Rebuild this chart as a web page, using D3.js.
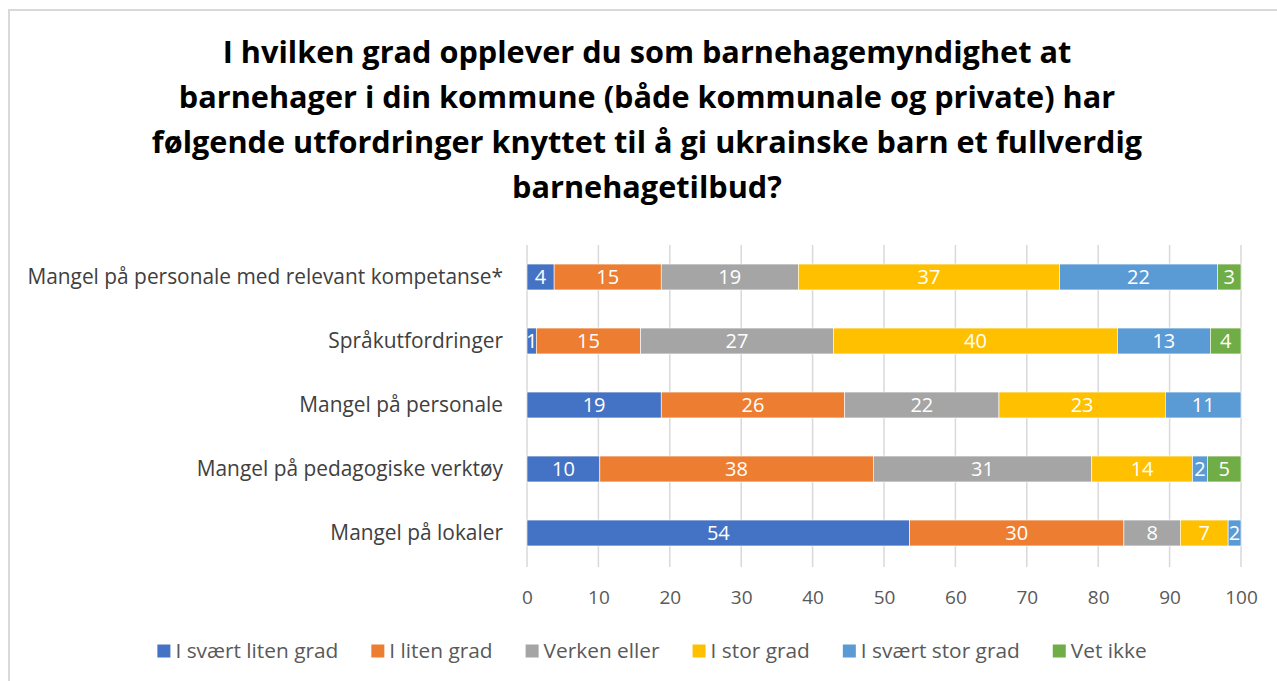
<!DOCTYPE html>
<html>
<head>
<meta charset="utf-8">
<script src="https://cdn.jsdelivr.net/npm/d3@7"></script>
<style>
  html, body { margin: 0; padding: 0; background: #fff; }
  svg { display: block; font-family: "Open Sans", "Noto Sans", sans-serif; }
</style>
</head>
<body>
<svg id="chart" width="1277" height="681"></svg>
<script>
// ---------- DATA ----------
const titleLines = [
  "I hvilken grad opplever du som barnehagemyndighet at",
  "barnehager i din kommune (både kommunale og private) har",
  "følgende utfordringer knyttet til å gi ukrainske barn et fullverdig",
  "barnehagetilbud?"
];
const categories = [
  "Mangel på personale med relevant kompetanse*",
  "Språkutfordringer",
  "Mangel på personale",
  "Mangel på pedagogiske verktøy",
  "Mangel på lokaler"
];
const seriesNames = ["I svært liten grad", "I liten grad", "Verken eller", "I stor grad", "I svært stor grad", "Vet ikke"];
const iSvaertLitenGrad = [3.8, 1.3, 18.8, 10.2, 53.6];
const iLitenGrad       = [15.0, 14.6, 25.7, 38.3, 30.0];
const verkenEller      = [19.2, 27.0, 21.6, 30.6, 7.9];
const iStorGrad        = [36.6, 39.8, 23.3, 14.1, 6.7];
const iSvaertStorGrad  = [22.1, 13.0, 10.6, 2.1, 1.8];
const vetIkke          = [3.3, 4.3, 0, 4.7, 0];
const tickValues = [0, 10, 20, 30, 40, 50, 60, 70, 80, 90, 100];
const colors = ["#4472C4", "#ED7D31", "#A5A5A5", "#FFC000", "#5B9BD5", "#70AD47"];

// ---------- BUILD ----------
const seriesValues = [iSvaertLitenGrad, iLitenGrad, verkenEller, iStorGrad, iSvaertStorGrad, vetIkke];
const table = categories.map((c, i) => {
  const row = { category: c };
  seriesNames.forEach((s, j) => row[s] = seriesValues[j][i]);
  return row;
});
const stacked = d3.stack().keys(seriesNames)(table);

const svg = d3.select("#chart");
const margin = { left: 527, right: 36, top: 245, bottom: 116 };
const W = 1277, H = 681;

// chart border
svg.append("rect")
  .attr("x", 9).attr("y", 10)
  .attr("width", W + 20).attr("height", H + 20)
  .attr("fill", "none").attr("stroke", "#d9d9d9").attr("stroke-width", 2);

function fitSize(textArr, family, weight, target, base) {
  const t = svg.append("text").attr("font-family", family).attr("font-weight", weight).attr("font-size", base);
  let maxW = 0;
  textArr.forEach(s => { t.text(s); maxW = Math.max(maxW, t.node().getComputedTextLength()); });
  t.remove();
  return base * target / maxW;
}
const fam = '"Open Sans", "Noto Sans", sans-serif';

// title
const titleSize = fitSize([titleLines[2]], fam, 700, 991, 30);
svg.append("g").selectAll("text").data(titleLines).join("text")
  .attr("x", 647).attr("y", (d, i) => 63 + i * 45)
  .attr("text-anchor", "middle")
  .attr("font-size", titleSize).attr("font-weight", 700).attr("fill", "#000")
  .text(d => d);

const x = d3.scaleLinear().domain([0, 100]).range([margin.left, W - margin.right]);
const y = d3.scaleBand().domain(categories).range([margin.top, H - margin.bottom]).paddingInner(0.595).paddingOuter(0.2975);

// gridlines
svg.append("g").selectAll("line").data(tickValues).join("line")
  .attr("x1", d => x(d)).attr("x2", d => x(d))
  .attr("y1", margin.top).attr("y2", H - margin.bottom + 2)
  .attr("stroke", "#d9d9d9").attr("stroke-width", 1.5);

// x axis labels
const tickSize = 19;
const xAxis = d3.axisBottom(x).tickValues(tickValues).tickSize(0).tickPadding(0).tickFormat(d3.format("d"));
const gx = svg.append("g").attr("transform", `translate(0,${H - margin.bottom + 32})`).call(xAxis);
gx.select(".domain").remove();
gx.selectAll("text").attr("font-size", tickSize).attr("font-family", fam).attr("fill", "#595959").attr("dy", "0.35em").attr("y", 0);

// y axis labels
const catSize = fitSize([categories[0]], fam, 400, 476, 18);
const yAxis = d3.axisLeft(y).tickSize(0).tickPadding(24);
const gy = svg.append("g").attr("transform", `translate(${margin.left},0)`).call(yAxis);
gy.select(".domain").remove();
gy.selectAll("text").attr("font-size", catSize).attr("font-family", fam).attr("fill", "#404040").attr("dy", "0.35em");

// bars
const layers = svg.append("g").selectAll("g").data(stacked).join("g")
  .attr("fill", (d, i) => colors[i]);
layers.selectAll("rect").data(d => d).join("rect")
  .attr("x", d => x(d[0]))
  .attr("y", d => y(d.data.category))
  .attr("width", d => x(d[1]) - x(d[0]))
  .attr("height", y.bandwidth())
  .attr("stroke", "#fff").attr("stroke-width", 0.6);

// data labels
const fmt = d3.format(".0f");
const labelSize = 20;
svg.append("g").selectAll("g").data(stacked).join("g")
  .selectAll("text").data(d => d.filter(p => p[1] - p[0] > 0)).join("text")
  .attr("x", d => (x(d[0]) + x(d[1])) / 2)
  .attr("y", d => y(d.data.category) + y.bandwidth() / 2)
  .attr("dy", "0.36em")
  .attr("text-anchor", "middle")
  .attr("font-size", labelSize).attr("fill", "#fff")
  .text(d => fmt(d[1] - d[0]));

// legend
const legSize = fitSize([seriesNames[4]], fam, 400, 159, 18);
const leg = svg.append("g");
const items = leg.selectAll("g").data(seriesNames).join("g");
items.append("rect").attr("width", 13).attr("height", 13).attr("y", -6.5).attr("fill", (d, i) => colors[i]);
items.append("text").attr("x", 18).attr("dy", "0.35em").attr("font-size", legSize).attr("fill", "#595959").text(d => d);
const widths = [];
items.each(function () { widths.push(18 + d3.select(this).select("text").node().getComputedTextLength()); });
const gap = 33;
const total = d3.sum(widths) + gap * (widths.length - 1);
const start = 652 - total / 2;
items.attr("transform", (d, i) => {
  const tx = start + d3.sum(widths.slice(0, i)) + gap * i;
  return `translate(${tx},651)`;
});
</script>
</body>
</html>
